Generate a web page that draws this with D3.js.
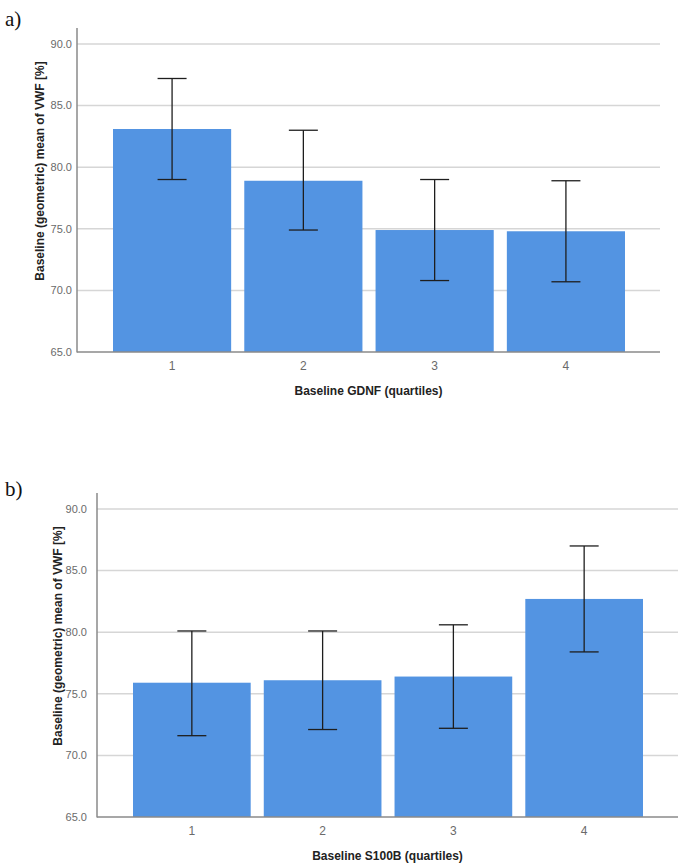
<!DOCTYPE html>
<html>
<head>
	<script src="https://cdn.jsdelivr.net/npm/d3@7"></script>
	<style>
		html, body {
			padding: 0;
			margin: 0;
			background: #fff;
		}
	</style>
</head>
<body>
	<script>
		var width = 685, height = 868;

		var svg = d3.select('body').append('svg')
			.attr('width', width)
			.attr('height', height)
			.style('background-color', 'white');

		/* data */
		var quartiles = ["1", "2", "3", "4"];
		var yTicks = [65, 70, 75, 80, 85, 90];

		var gdnfMean  = [83.1, 78.9, 74.9, 74.8];
		var gdnfLower = [79.0, 74.9, 70.8, 70.7];
		var gdnfUpper = [87.2, 83.0, 79.0, 78.9];

		var s100Mean  = [75.9, 76.1, 76.4, 82.7];
		var s100Lower = [71.6, 72.1, 72.2, 78.4];
		var s100Upper = [80.1, 80.1, 80.6, 87.0];

		var yTitle = "Baseline (geometric) mean of VWF [%]";

		/* one panel: axes, gridlines, bars and error bars */
		var drawPanel = function(p) {
			var x = d3.scaleBand()
				.domain(quartiles)
				.range([p.left + 36, p.right - 35])
				.paddingInner(0.1);

			var y = d3.scaleLinear()
				.domain([65, 90])
				.range([p.bottom, p.y90]);

			var g = svg.append('g');

			// gridlines
			g.selectAll('line.grid')
				.data(yTicks.slice(1))
				.enter().append('line')
				.attr('x1', p.left)
				.attr('x2', p.right)
				.attr('y1', function(d) { return y(d); })
				.attr('y2', function(d) { return y(d); })
				.style('stroke', '#d6d6d6')
				.style('stroke-width', 1.5);

			// bars
			g.selectAll('rect')
				.data(p.mean)
				.enter().append('rect')
				.attr('x', function(d, i) { return x(quartiles[i]); })
				.attr('y', function(d) { return y(d); })
				.attr('width', x.bandwidth())
				.attr('height', function(d) { return p.bottom - y(d); })
				.attr('fill', '#5394e2');

			// error bars
			var cap = 14.5;
			p.mean.forEach(function(m, i) {
				var cx = x(quartiles[i]) + x.bandwidth() / 2;
				g.append('line')
					.attr('x1', cx).attr('x2', cx)
					.attr('y1', y(p.upper[i])).attr('y2', y(p.lower[i]))
					.style('stroke', '#1e1e1e').style('stroke-width', 1.3);
				[p.upper[i], p.lower[i]].forEach(function(v) {
					g.append('line')
						.attr('x1', cx - cap).attr('x2', cx + cap)
						.attr('y1', y(v)).attr('y2', y(v))
						.style('stroke', '#1e1e1e').style('stroke-width', 1.3);
				});
			});

			// axis lines
			g.append('line')
				.attr('x1', p.left).attr('x2', p.left)
				.attr('y1', p.top).attr('y2', p.bottom + 0.5)
				.style('stroke', '#8a8a8a').style('stroke-width', 1.5);
			g.append('line')
				.attr('x1', p.left).attr('x2', p.right)
				.attr('y1', p.bottom).attr('y2', p.bottom)
				.style('stroke', '#8a8a8a').style('stroke-width', 1.5);

			// y tick labels
			g.selectAll('text.ytick')
				.data(yTicks)
				.enter().append('text')
				.attr('x', p.left - p.tickGap)
				.attr('y', function(d) { return y(d); })
				.attr('dy', '0.35em')
				.attr('text-anchor', 'end')
				.style('font-family', 'Liberation Sans, Arial, sans-serif')
				.style('font-size', '11px')
				.style('fill', '#6a6a6a')
				.text(function(d) { return d3.format('.1f')(d); });

			// x tick labels
			g.selectAll('text.xtick')
				.data(quartiles)
				.enter().append('text')
				.attr('x', function(d) { return x(d) + x.bandwidth() / 2; })
				.attr('y', p.bottom + 18)
				.attr('text-anchor', 'middle')
				.style('font-family', 'Liberation Sans, Arial, sans-serif')
				.style('font-size', '12px')
				.style('fill', '#6a6a6a')
				.text(function(d) { return d; });

			// x title
			g.append('text')
				.attr('x', (p.left + p.right) / 2)
				.attr('y', p.bottom + 43)
				.attr('text-anchor', 'middle')
				.style('font-family', 'Liberation Sans, Arial, sans-serif')
				.style('font-size', '12px')
				.style('font-weight', 'bold')
				.style('fill', '#222')
				.text(p.xTitle);

			// y title
			g.append('text')
				.attr('transform', 'translate(' + p.yTitleX + ',' + p.yTitleY + ') rotate(-90)')
				.attr('text-anchor', 'middle')
				.attr('dy', '0.35em')
				.style('font-family', 'Liberation Sans, Arial, sans-serif')
				.style('font-size', '12px')
				.style('font-weight', 'bold')
				.style('fill', '#222')
				.text(yTitle);

			// panel letter
			svg.append('text')
				.attr('x', 5)
				.attr('y', p.labelY)
				.style('font-family', 'Liberation Serif, Times New Roman, serif')
				.style('font-size', '21px')
				.style('fill', '#111')
				.text(p.label);
		};

		drawPanel({
			label: 'a)', labelY: 26,
			left: 77, right: 660, top: 28, bottom: 352, y90: 44,
			tickGap: 5, yTitleX: 40, yTitleY: 171,
			mean: gdnfMean, lower: gdnfLower, upper: gdnfUpper,
			xTitle: 'Baseline GDNF (quartiles)'
		});

		drawPanel({
			label: 'b)', labelY: 496,
			left: 97, right: 678, top: 493, bottom: 817, y90: 509,
			tickGap: 10, yTitleX: 58, yTitleY: 636,
			mean: s100Mean, lower: s100Lower, upper: s100Upper,
			xTitle: 'Baseline S100B (quartiles)'
		});
	</script>
</body>
</html>
